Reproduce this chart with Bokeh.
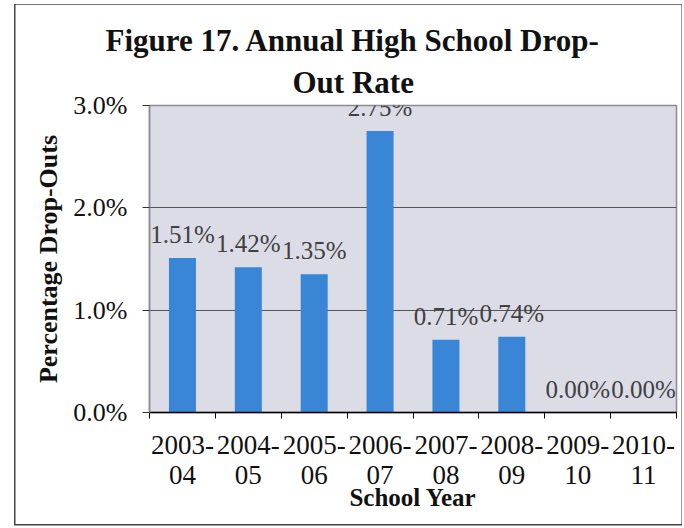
from bokeh.plotting import figure
from bokeh.models import (Range1d, FixedTicker, ColumnDataSource, LabelSet, Title,
                          PrintfTickFormatter)
from bokeh.embed import file_html
from bokeh.resources import INLINE

# ---- data ----
years = ["2003-\n04", "2004-\n05", "2005-\n06", "2006-\n07",
         "2007-\n08", "2008-\n09", "2009-\n10", "2010-\n11"]
rates = [1.51, 1.42, 1.35, 2.75, 0.71, 0.74, 0.00, 0.00]
y_ticks = [0, 1, 2, 3]
title_lines = ["Figure 17.  Annual High School Drop-", "Out Rate"]
x_title = "School Year"
y_title = "Percentage Drop-Outs"

FONT = "Liberation Serif"
W, H = 684, 528

pos = [i + 0.5 for i in range(len(years))]
labels = [f"{v:.2f}%" for v in rates]
src = ColumnDataSource(dict(x=pos, top=rates, label=labels))

p = figure(width=W, height=H, output_backend="svg", toolbar_location=None,
           x_range=Range1d(0, len(years)), y_range=Range1d(0, 3),
           min_border_left=149, min_border_right=8, min_border_top=105,
           min_border_bottom=116)

p.background_fill_color = "#dcdce7"
p.border_fill_alpha = 0
p.outline_line_color = "#8c8c8c"
p.outline_line_width = 1.5
p.styles = {
    "background": (
        "linear-gradient(#444,#444) 14px 4px/1.5px 521px no-repeat,"
        "linear-gradient(#444,#444) 14px 524px/668px 1.5px no-repeat,"
        "linear-gradient(#777,#777) 14px 4px/668px 1.2px no-repeat,"
        "linear-gradient(#999,#999) 681px 4px/1.2px 521px no-repeat,"
        "white"
    )
}

p.vbar(x="x", top="top", width=0.41, source=src, fill_color="#3a86d6", line_color=None)

p.add_layout(LabelSet(x="x", y="top", text="label", source=src, y_offset=15,
                      text_align="center", text_baseline="alphabetic",
                      text_font=FONT, text_font_size="25px", text_color="#404040"))

# x axis
xa = p.xaxis[0]
xa.ticker = FixedTicker(ticks=pos, minor_ticks=list(range(len(years) + 1)))
xa.major_label_overrides = {x: y for x, y in zip(pos, years)}
xa.major_tick_out = 0
xa.major_tick_in = 0
xa.minor_tick_out = 6
xa.minor_tick_in = 0
xa.minor_tick_line_color = "black"
xa.axis_line_color = "black"
xa.axis_line_width = 1.5
xa.major_label_text_font = FONT
xa.major_label_text_font_size = "27px"
xa.major_label_text_line_height = 1.0
xa.major_label_text_color = "#111111"
xa.major_label_standoff = 11
xa.axis_label = x_title
xa.axis_label_text_font = FONT
xa.axis_label_text_font_style = "bold"
xa.axis_label_text_font_size = "25px"
xa.axis_label_text_color = "#111111"
xa.axis_label_standoff = -9

# y axis
ya = p.yaxis[0]
ya.ticker = FixedTicker(ticks=y_ticks)
ya.formatter = PrintfTickFormatter(format="%.1f%%")
ya.major_tick_out = 7
ya.major_tick_in = 0
ya.major_tick_line_color = "#333333"
ya.axis_line_color = "#8c8c8c"
ya.axis_line_width = 1.5
ya.major_label_text_font = FONT
ya.major_label_text_font_size = "26px"
ya.major_label_text_color = "#111111"
ya.major_label_standoff = 15
ya.axis_label = y_title
ya.axis_label_text_font = FONT
ya.axis_label_text_font_style = "bold"
ya.axis_label_text_font_size = "26px"
ya.axis_label_text_color = "#111111"
ya.axis_label_standoff = 7

p.xgrid.visible = False
p.ygrid.ticker = FixedTicker(ticks=y_ticks)
p.ygrid.grid_line_color = "#555555"
p.ygrid.grid_line_width = 1.2

# title (two lines; the panel added last sits outermost)
for txt, off, so in zip(reversed(title_lines), [143, -44], [11, 0]):
    p.add_layout(Title(text=txt, align="left", offset=off, text_font=FONT,
                       text_font_style="bold", text_font_size="31px",
                       text_color="#111111", standoff=so), "above")

open("out.html", "w").write(file_html(p, INLINE))
